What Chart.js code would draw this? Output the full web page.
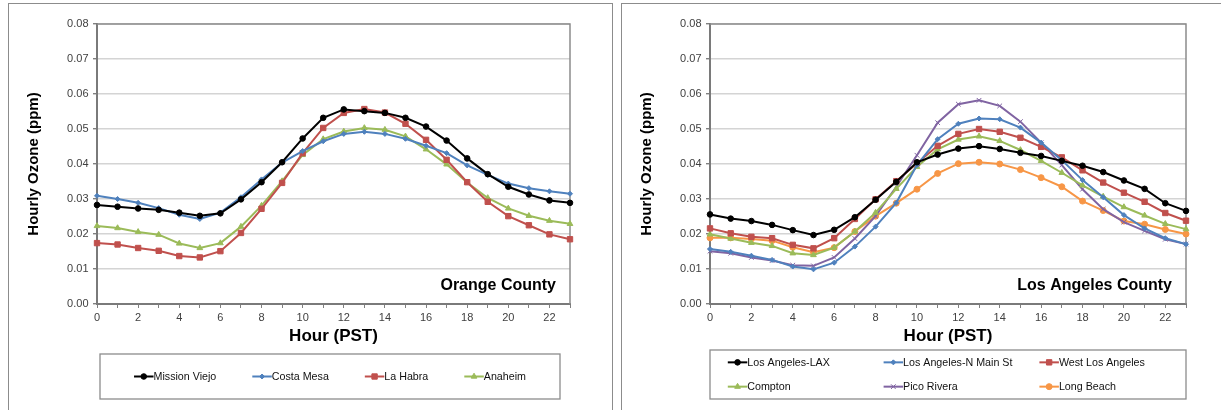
<!DOCTYPE html>
<html>
<head>
<meta charset="utf-8">
<script src="https://cdn.jsdelivr.net/npm/chart.js@4.4.1/dist/chart.umd.min.js"></script>
<style>
html, body { margin: 0; padding: 0; background: #fff; }
body { width: 1221px; height: 410px; position: relative; overflow: hidden; }
.panel { position: absolute; border: 1px solid #8c8c8c; }
#panelOC { left: 8px; top: 3px; width: 603px; height: 440px; }
#panelLA { left: 621px; top: 3px; width: 660px; height: 440px; }
canvas { position: absolute; top: 0; }
#chartOC { left: 0; }
#chartLA { left: 612px; }
</style>
</head>
<body>
<div class="panel" id="panelOC"></div>
<div class="panel" id="panelLA"></div>
<canvas id="chartOC" width="612" height="410"></canvas>
<canvas id="chartLA" width="609" height="410"></canvas>
<script>
const hours = [0, 1, 2, 3, 4, 5, 6, 7, 8, 9, 10, 11, 12, 13, 14, 15, 16, 17, 18, 19, 20, 21, 22, 23];
const yTicks = ['0.00', '0.01', '0.02', '0.03', '0.04', '0.05', '0.06', '0.07', '0.08'];

// Orange County sites, hourly ozone (ppm)
const missionViejo = [0.0283, 0.0278, 0.0273, 0.0269, 0.0261, 0.0252, 0.0259, 0.0299, 0.0348, 0.0405, 0.0473, 0.0532,
    0.0556, 0.0551, 0.0546, 0.0532, 0.0507, 0.0467, 0.0416, 0.0371, 0.0335, 0.0313, 0.0296, 0.0289];
const costaMesa = [0.0309, 0.0300, 0.0289, 0.0274, 0.0255, 0.0243, 0.0261, 0.0305, 0.0356, 0.0404, 0.0437, 0.0465,
    0.0486, 0.0492, 0.0486, 0.0472, 0.0452, 0.0431, 0.0396, 0.0369, 0.0344, 0.0331, 0.0322, 0.0315];
const laHabra = [0.0174, 0.0170, 0.0160, 0.0152, 0.0137, 0.0133, 0.0151, 0.0203, 0.0272, 0.0346, 0.0431, 0.0503,
    0.0546, 0.0557, 0.0547, 0.0515, 0.0469, 0.0412, 0.0348, 0.0292, 0.0251, 0.0225, 0.0199, 0.0185];
const anaheim = [0.0223, 0.0217, 0.0206, 0.0198, 0.0173, 0.0160, 0.0174, 0.0221, 0.0281, 0.0351, 0.0426, 0.0471,
    0.0493, 0.0503, 0.0498, 0.0479, 0.0442, 0.0399, 0.0347, 0.0303, 0.0273, 0.0252, 0.0238, 0.0229];

// Los Angeles County sites
const laxSite = [0.0256, 0.0244, 0.0237, 0.0226, 0.0211, 0.0197, 0.0212, 0.0248, 0.0298, 0.0349, 0.0405, 0.0427,
    0.0444, 0.0451, 0.0443, 0.0432, 0.0423, 0.0409, 0.0395, 0.0377, 0.0353, 0.0329, 0.0288, 0.0266];
const northMain = [0.0157, 0.0149, 0.0138, 0.0126, 0.0107, 0.0099, 0.0118, 0.0164, 0.0221, 0.0289, 0.0397, 0.0471,
    0.0515, 0.0530, 0.0528, 0.0504, 0.0461, 0.0411, 0.0354, 0.0305, 0.0254, 0.0216, 0.0188, 0.0171];
const westLA = [0.0216, 0.0202, 0.0192, 0.0188, 0.0169, 0.0159, 0.0188, 0.0243, 0.0299, 0.0351, 0.0402, 0.0452,
    0.0486, 0.0500, 0.0492, 0.0475, 0.0449, 0.0419, 0.0382, 0.0347, 0.0318, 0.0292, 0.0260, 0.0238];
const compton = [0.0199, 0.0187, 0.0175, 0.0166, 0.0145, 0.0140, 0.0161, 0.0207, 0.0261, 0.0329, 0.0392, 0.0442,
    0.0470, 0.0479, 0.0466, 0.0440, 0.0409, 0.0375, 0.0339, 0.0307, 0.0277, 0.0253, 0.0229, 0.0214];
const picoRivera = [0.0151, 0.0145, 0.0133, 0.0124, 0.0111, 0.0109, 0.0133, 0.0187, 0.0251, 0.0335, 0.0425, 0.0518,
    0.0571, 0.0582, 0.0566, 0.0521, 0.0461, 0.0397, 0.0328, 0.0271, 0.0234, 0.0209, 0.0185, 0.0171];
const longBeach = [0.0189, 0.0189, 0.0186, 0.0181, 0.0162, 0.0148, 0.0161, 0.0207, 0.0251, 0.0288, 0.0328, 0.0373,
    0.0401, 0.0405, 0.0400, 0.0384, 0.0361, 0.0335, 0.0294, 0.0267, 0.0237, 0.0228, 0.0213, 0.0200];

const FONT = "Arial, 'Liberation Sans', sans-serif";

function createDataset(label, data, color, pointStyle, radius) {
    return {
        label: label,
        data: data,
        borderColor: color,
        backgroundColor: color,
        pointBackgroundColor: color,
        pointBorderColor: color,
        borderWidth: 2,
        pointStyle: pointStyle,
        pointRadius: radius,
        pointBorderWidth: 1,
        tension: 0,
        clip: false
    };
}

// plot frame, county name and the boxed legend under the axis
const panelDecor = {
    id: 'panelDecor',
    beforeDatasetsDraw(chart) {
        const {ctx, chartArea: a} = chart;
        ctx.save();
        ctx.strokeStyle = '#8c8c8c';
        ctx.lineWidth = 1.5;
        ctx.beginPath();
        ctx.moveTo(a.left, a.top);
        ctx.lineTo(a.right, a.top);
        ctx.lineTo(a.right, a.bottom);
        ctx.stroke();
        ctx.restore();
    },
    afterDraw(chart, args, opts) {
        const {ctx, chartArea: a} = chart;
        ctx.save();

        ctx.font = 'bold 16px ' + FONT;
        ctx.fillStyle = '#000';
        ctx.textAlign = 'right';
        ctx.textBaseline = 'middle';
        ctx.fillText(opts.county, a.right - 14, a.bottom - 18);

        const box = opts.box;
        ctx.strokeStyle = '#8c8c8c';
        ctx.lineWidth = 1.3;
        ctx.strokeRect(box.left, box.top, box.right - box.left, box.bottom - box.top);

        ctx.font = '10.7px ' + FONT;
        ctx.textAlign = 'left';
        const symbolWidth = 19.5;
        const datasets = chart.data.datasets;
        const widths = datasets.map(ds => symbolWidth + ctx.measureText(ds.label).width);
        const cols = opts.columns;
        const rows = Math.ceil(datasets.length / cols);
        const rowGap = 24.3;
        const midY = (box.top + box.bottom) / 2;

        let positions = [];
        if (rows === 1) {
            const gap = 36;
            const total = widths.reduce((s, w) => s + w, 0) + gap * (widths.length - 1);
            let x = (box.left + box.right) / 2 - total / 2;
            widths.forEach(w => {
                positions.push({x: x, y: midY});
                x += w + gap;
            });
        } else {
            const colWidth = Math.max(...widths) + 27;
            const startX = (box.left + box.right) / 2 - (colWidth * cols - 27) / 2;
            const startY = midY - rowGap * (rows - 1) / 2;
            datasets.forEach((ds, i) => {
                positions.push({x: startX + (i % cols) * colWidth, y: startY + Math.floor(i / cols) * rowGap});
            });
        }

        datasets.forEach((ds, i) => {
            const p = positions[i];
            ctx.strokeStyle = ds.borderColor;
            ctx.fillStyle = ds.borderColor;
            ctx.lineWidth = ds.borderWidth;
            ctx.beginPath();
            ctx.moveTo(p.x, p.y);
            ctx.lineTo(p.x + symbolWidth, p.y);
            ctx.stroke();
            ctx.lineWidth = 1;
            Chart.helpers.drawPoint(ctx, {
                pointStyle: ds.pointStyle,
                radius: ds.pointRadius,
                borderWidth: 1,
                rotation: 0
            }, p.x + symbolWidth / 2, p.y);
            ctx.fillStyle = '#111';
            ctx.fillText(ds.label, p.x + symbolWidth, p.y + 0.5);
        });
        ctx.restore();
    }
};

function makeOptions(county, box, columns, padLeft, padRight) {
    return {
        responsive: false,
        animation: false,
        layout: {
            padding: {left: padLeft, right: padRight, top: 24, bottom: 63}
        },
        scales: {
            x: {
                type: 'category',
                offset: false,
                afterFit(scale) { scale.height = 43; },
                grid: {
                    drawOnChartArea: false,
                    drawTicks: true,
                    tickLength: 4,
                    tickColor: '#808080',
                    color: '#808080'
                },
                border: {color: '#7a7a7a', width: 2},
                ticks: {
                    autoSkip: false,
                    maxRotation: 0,
                    padding: 3,
                    color: '#404040',
                    font: {family: FONT, size: 11},
                    callback: (value, index) => index % 2 === 0 ? hours[index] : ''
                },
                title: {
                    display: true,
                    text: 'Hour (PST)',
                    color: '#000',
                    padding: 0,
                    font: {family: FONT, size: 17, weight: 'bold'}
                }
            },
            y: {
                min: 0,
                max: 0.08,
                afterFit(scale) { scale.width = 72; },
                afterBuildTicks(scale) {
                    scale.ticks = yTicks.map(t => ({value: parseFloat(t)}));
                },
                grid: {
                    color: '#d4d4d4',
                    lineWidth: 1.4,
                    drawTicks: true,
                    tickLength: 4,
                    tickColor: '#808080'
                },
                border: {color: '#7a7a7a', width: 2},
                ticks: {
                    padding: 4.5,
                    color: '#404040',
                    font: {family: FONT, size: 11},
                    callback: (value, index) => yTicks[index]
                },
                title: {
                    display: true,
                    text: 'Hourly Ozone (ppm)',
                    color: '#000',
                    padding: 0,
                    font: {family: FONT, size: 15, weight: 'bold'}
                }
            }
        },
        plugins: {
            legend: {display: false},
            tooltip: {enabled: false},
            panelDecor: {county: county, box: box, columns: columns}
        }
    };
}

new Chart(document.getElementById('chartOC'), {
    type: 'line',
    data: {
        labels: hours,
        datasets: [
            createDataset('Mission Viejo', missionViejo, '#000000', 'circle', 2.8),
            createDataset('Costa Mesa', costaMesa, '#4F81BD', 'rectRot', 2.5),
            createDataset('La Habra', laHabra, '#C0504D', 'rect', 3.8),
            createDataset('Anaheim', anaheim, '#9BBB59', 'triangle', 3.3)
        ]
    },
    options: makeOptions('Orange County', {left: 100, top: 354, right: 560, bottom: 399}, 4, 25, 42),
    plugins: [panelDecor]
});

new Chart(document.getElementById('chartLA'), {
    type: 'line',
    data: {
        labels: hours,
        datasets: [
            createDataset('Los Angeles-LAX', laxSite, '#000000', 'circle', 2.8),
            createDataset('Los Angeles-N Main St', northMain, '#4F81BD', 'rectRot', 2.5),
            createDataset('West Los Angeles', westLA, '#C0504D', 'rect', 3.8),
            createDataset('Compton', compton, '#9BBB59', 'triangle', 3.3),
            createDataset('Pico Rivera', picoRivera, '#8064A2', 'crossRot', 3.3),
            createDataset('Long Beach', longBeach, '#F79646', 'circle', 3)
        ]
    },
    options: makeOptions('Los Angeles County', {left: 98, top: 350, right: 574, bottom: 399}, 3, 26, 35),
    plugins: [panelDecor]
});
</script>
</body>
</html>
